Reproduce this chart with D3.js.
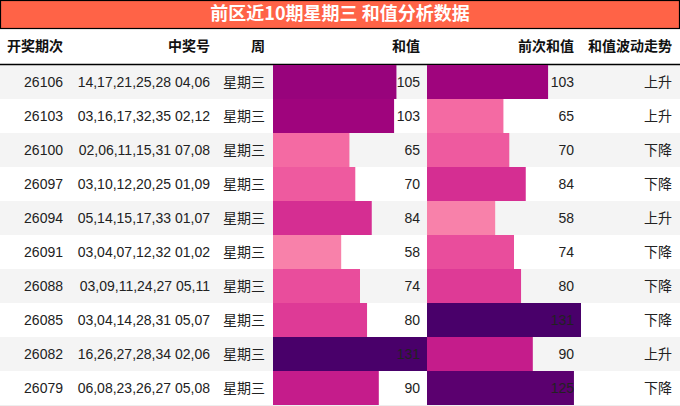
<!DOCTYPE html>
<html>
<head>
<meta charset="utf-8">
<script src="https://cdn.jsdelivr.net/npm/d3@7"></script>
<style>
html,body{margin:0;padding:0;background:#fff;}
svg{display:block;}
text{font-family:"Liberation Sans","Noto Sans CJK SC",sans-serif;}
</style>
</head>
<body>
<svg id="chart" width="680" height="406"></svg>
<script>
const title = "前区近10期星期三 和值分析数据";
const headers = ["开奖期次", "中奖号", "周", "和值", "前次和值", "和值波动走势"];
const periods = ["26106","26103","26100","26097","26094","26091","26088","26085","26082","26079"];
const numbers = ["14,17,21,25,28 04,06","03,16,17,32,35 02,12","02,06,11,15,31 07,08","03,10,12,20,25 01,09","05,14,15,17,33 01,07","03,04,07,12,32 01,02","03,09,11,24,27 05,11","03,04,14,28,31 05,07","16,26,27,28,34 02,06","06,08,23,26,27 05,08"];
const weekdays = ["星期三","星期三","星期三","星期三","星期三","星期三","星期三","星期三","星期三","星期三"];
const sums = [105,103,65,70,84,58,74,80,131,90];
const prevSums = [103,65,70,84,58,74,80,131,90,125];
const trends = ["上升","上升","下降","下降","上升","下降","下降","下降","上升","下降"];

const W = 680, titleH = 28, headerBottom = 64.5, rowTop = 65, rowH = 34;
const svg = d3.select("#chart");

// title
svg.append("rect").attr("x",0.5).attr("y",0.5).attr("width",W-1).attr("height",titleH)
  .attr("fill","#ff6347").attr("stroke","#000").attr("stroke-width",1.2);
svg.append("text").attr("x",W/2).attr("y",titleH/2+1.5)
  .attr("text-anchor","middle").attr("dominant-baseline","middle")
  .attr("fill","#fff").attr("font-size",18).attr("font-weight","bold")
  .style("font-family","'Noto Sans CJK SC',sans-serif").text(title);

const maxV = d3.max(sums.concat(prevSums));
const x = d3.scaleLinear().domain([0, maxV]).range([0, 154]);
const color = d3.scaleSequential(d3.interpolateRdPu).domain([0, maxV]);
const y = d3.scaleBand().domain(d3.range(periods.length)).range([rowTop, rowTop + rowH*periods.length]);

const bar1X = 273, bar2X = 427;
const colRight = [63, 210, 265, 420, 574, 672];

// header
const hy = 47;
headers.forEach((h,i)=>{
  svg.append("text").attr("x",colRight[i]).attr("y",hy)
    .attr("text-anchor","end").attr("dominant-baseline","middle")
    .attr("font-size",14).attr("font-weight","bold").attr("fill","#111")
    .style("font-family","'Noto Sans CJK SC',sans-serif").text(h);
});

// row backgrounds
svg.selectAll("rect.rowbg").data(periods).enter().append("rect")
  .attr("class","rowbg").attr("x",0).attr("y",(d,i)=>y(i)).attr("width",W).attr("height",rowH)
  .attr("fill",(d,i)=> i%2===0 ? "#f4f4f4" : "#ffffff");

svg.append("line").attr("x1",0).attr("x2",W).attr("y1",headerBottom).attr("y2",headerBottom)
  .attr("stroke","#000").attr("stroke-width",1.5);

// bars
svg.selectAll("rect.b1").data(sums).enter().append("rect")
  .attr("x",bar1X).attr("y",(d,i)=>y(i)).attr("width",d=>x(d)).attr("height",y.bandwidth())
  .attr("fill",d=>color(d));
svg.selectAll("rect.b2").data(prevSums).enter().append("rect")
  .attr("x",bar2X).attr("y",(d,i)=>y(i)).attr("width",d=>x(d)).attr("height",y.bandwidth())
  .attr("fill",d=>color(d));

const cols = [periods, numbers, weekdays, sums, prevSums, trends];
cols.forEach((arr,c)=>{
  svg.selectAll("text.c"+c).data(arr).enter().append("text")
    .attr("x",colRight[c]).attr("y",(d,i)=>y(i)+rowH/2+1)
    .attr("text-anchor","end").attr("dominant-baseline","middle")
    .attr("font-size",14).attr("fill","#222")
    .style("font-family", (c===2||c===5) ? "'Noto Sans CJK SC',sans-serif" : "'Liberation Sans',sans-serif")
    .text(d=>d);
});

svg.append("line").attr("x1",0).attr("x2",W).attr("y1",405.5).attr("y2",405.5)
  .attr("stroke","#eee").attr("stroke-width",1);
</script>
</body>
</html>
